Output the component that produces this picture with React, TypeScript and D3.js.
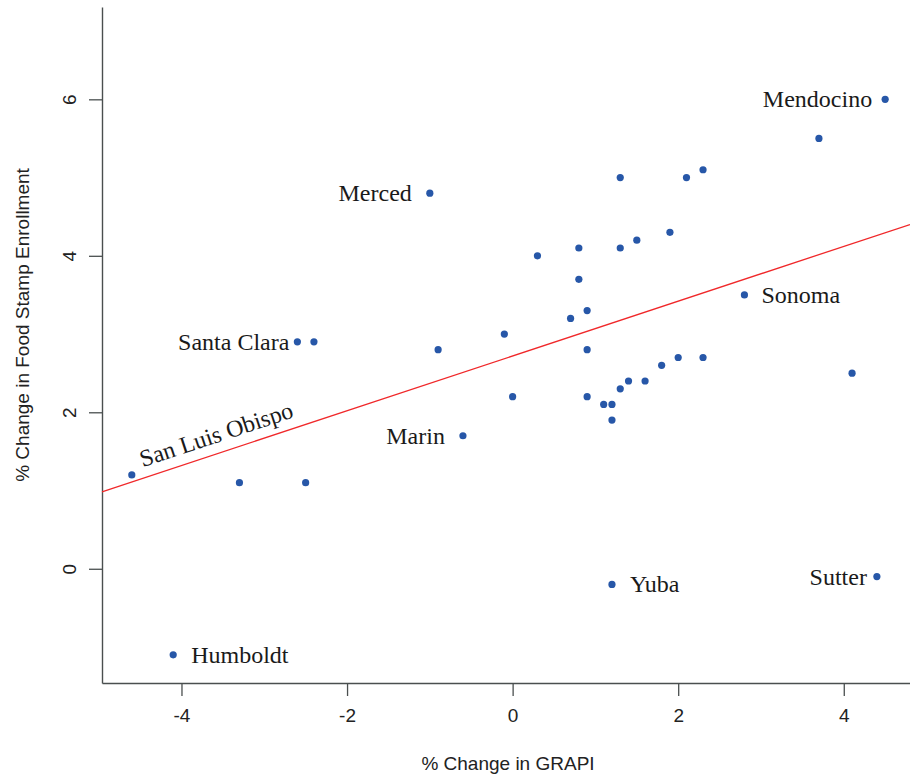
import React, { useEffect, useRef } from "react";
import * as d3 from "d3";

// % change in GRAPI vs % change in food stamp enrollment, by county
const grapi = [4.5, 3.7, -1.0, 1.3, 2.1, 2.3, 1.9, 1.5, 0.8, 1.3, 0.3, 0.8, 2.8, 0.9, 0.7, -0.1, -2.6, -2.4, -0.9, 0.9, 2.0, 2.3, 1.8, 4.1, 1.4, 1.6, 1.3, 0.0, 0.9, 1.1, 1.2, 1.2, -0.6, -4.6, -3.3, -2.5, 1.2, 4.4, -4.1];
const enrollment = [6.0, 5.5, 4.8, 5.0, 5.0, 5.1, 4.3, 4.2, 4.1, 4.1, 4.0, 3.7, 3.5, 3.3, 3.2, 3.0, 2.9, 2.9, 2.8, 2.8, 2.7, 2.7, 2.6, 2.5, 2.4, 2.4, 2.3, 2.2, 2.2, 2.1, 2.1, 1.9, 1.7, 1.2, 1.1, 1.1, -0.2, -0.1, -1.1];
const county = ["Mendocino", "", "Merced", "", "", "", "", "", "", "", "", "", "Sonoma", "", "", "", "Santa Clara", "", "", "", "", "", "", "", "", "", "", "", "", "", "", "", "Marin", "San Luis Obispo", "", "", "Yuba", "Sutter", "Humboldt"];

// fitted line
const fitIntercept = 2.72;
const fitSlope = 0.35;

const xTicks = [-4, -2, 0, 2, 4];
const yTicks = [0, 2, 4, 6];

// label side and gap (px) from the point
const labelLayout = {
    "Mendocino": { side: "left", gap: 13 },
    "Merced": { side: "left", gap: 18 },
    "Sonoma": { side: "right", gap: 17 },
    "Santa Clara": { side: "left", gap: 8 },
    "Marin": { side: "left", gap: 18 },
    "Yuba": { side: "right", gap: 18 },
    "Sutter": { side: "left", gap: 10 },
    "Humboldt": { side: "right", gap: 18 },
};

const width = 910;
const height = 777;

const App = () => {
    const svgRef = useRef(null);

    useEffect(() => {
        const svg = d3.select(svgRef.current);
        svg.selectAll("*").remove();

        const x = d3.scaleLinear().domain([-4.96, 4.8]).range([102, 910]);
        const y = d3.scaleLinear().domain([-1.46, 7.18]).range([683, 7]);

        const axisFont = "'Liberation Sans', Arial, sans-serif";
        const labelFont = "'Liberation Serif', 'Times New Roman', serif";
        const fmt = d => String(d); // plain hyphen minus like R

        // axes, R style
        const xAxis = svg.append("g").attr("transform", `translate(0, ${y.range()[0]})`)
            .call(d3.axisBottom(x).tickValues(xTicks).tickSize(13).tickSizeOuter(0).tickPadding(13).tickFormat(fmt));
        const yAxis = svg.append("g").attr("transform", `translate(${x.range()[0]}, 0)`)
            .call(d3.axisLeft(y).tickValues(yTicks).tickSize(13).tickSizeOuter(0).tickPadding(0).tickFormat(fmt));

        [xAxis, yAxis].forEach(g => {
            g.select(".domain").attr("stroke", "#4a4f4f").attr("stroke-width", 1.4);
            g.selectAll(".tick line").attr("stroke", "#4a4f4f").attr("stroke-width", 1.3);
            g.selectAll(".tick text").attr("font-family", axisFont).attr("font-size", 19).attr("fill", "#222");
        });
        // R draws y tick labels rotated
        yAxis.selectAll(".tick text")
            .attr("x", null).attr("dy", null)
            .attr("text-anchor", "middle")
            .attr("transform", "translate(-33, 0) rotate(-90)")
            .attr("dy", "0.35em");

        svg.append("text")
            .attr("x", 508).attr("y", 770)
            .attr("text-anchor", "middle")
            .attr("font-family", axisFont).attr("font-size", 19).attr("fill", "#222")
            .text("% Change in GRAPI");
        svg.append("text")
            .attr("transform", "translate(29, 325) rotate(-90)")
            .attr("text-anchor", "middle")
            .attr("font-family", axisFont).attr("font-size", 19).attr("fill", "#222")
            .text("% Change in Food Stamp Enrollment");

        // fit line
        const [x0, x1] = x.domain();
        svg.append("path")
            .datum([x0, x1])
            .attr("d", d3.line().x(d => x(d)).y(d => y(fitIntercept + fitSlope * d)))
            .attr("stroke", "#f0282a").attr("stroke-width", 1.3).attr("fill", "none");

        const idx = d3.range(grapi.length);
        svg.append("g").selectAll("circle")
            .data(idx)
            .join("circle")
            .attr("cx", i => x(grapi[i]))
            .attr("cy", i => y(enrollment[i]))
            .attr("r", 3.6)
            .attr("fill", "#2757a8");

        // county labels
        svg.append("g").selectAll("text")
            .data(idx.filter(i => labelLayout[county[i]]))
            .join("text")
            .attr("x", i => {
                const l = labelLayout[county[i]];
                return x(grapi[i]) + (l.side === "left" ? -l.gap : l.gap);
            })
            .attr("y", i => y(enrollment[i]))
            .attr("dy", "0.33em")
            .attr("text-anchor", i => labelLayout[county[i]].side === "left" ? "end" : "start")
            .attr("font-family", labelFont).attr("font-size", 24).attr("fill", "#1a1a1a")
            .text(i => county[i]);

        // San Luis Obispo sits along the fit line
        const slo = county.indexOf("San Luis Obispo");
        const angle = Math.atan2(y(fitSlope) - y(0), x(1) - x(0)) * 180 / Math.PI;
        const sx = x(grapi[slo]) + 11;
        const sy = y(fitIntercept + fitSlope * x.invert(sx)) - 11;
        svg.append("text")
            .attr("transform", `translate(${sx}, ${sy}) rotate(${angle})`)
            .attr("font-family", labelFont).attr("font-size", 24).attr("fill", "#1a1a1a")
            .text(county[slo]);
    }, []);

    return (
        <svg ref={svgRef} width={width} height={height}
             style={{ position: "absolute", left: 0, top: 0, background: "#fff" }}>
        </svg>
    );
};

export default App;
